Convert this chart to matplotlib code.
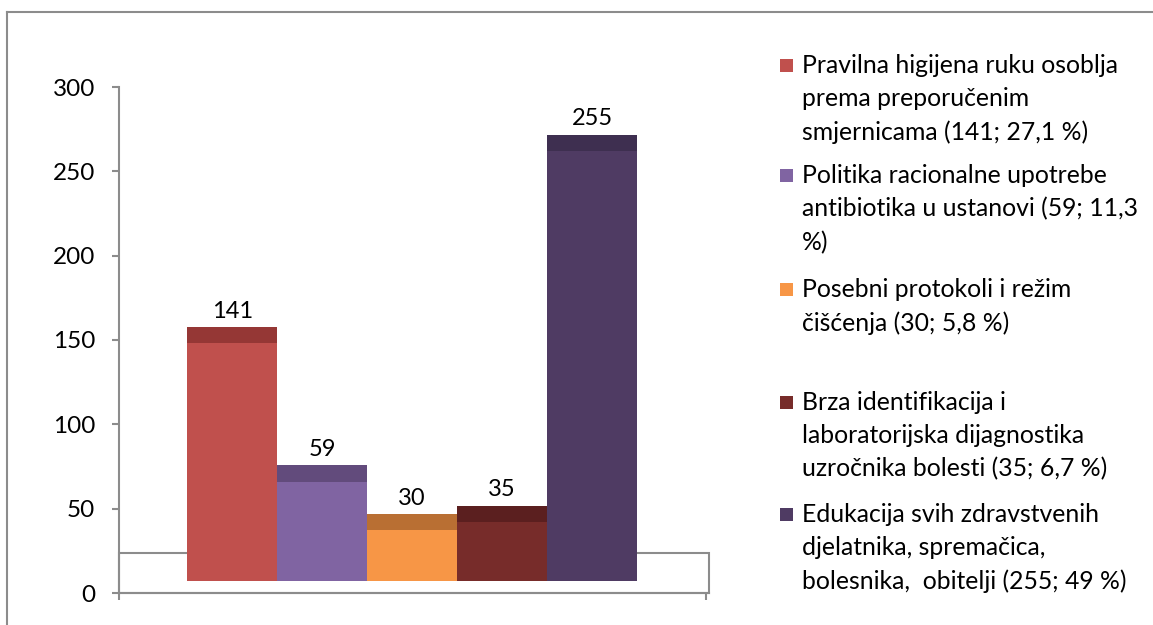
import matplotlib
matplotlib.use('Agg')
import matplotlib.pyplot as plt
from matplotlib.patches import Rectangle
from matplotlib.lines import Line2D

plt.rcParams['font.family'] = ['Lato', 'DejaVu Sans']

# data
values = [141, 59, 30, 35, 255]
labels = ['Pravilna higijena ruku osoblja\nprema preporučenim\nsmjernicama (141; 27,1 %)',
          'Politika racionalne upotrebe\nantibiotika u ustanovi (59; 11,3\n%)',
          'Posebni protokoli i režim\nčišćenja (30; 5,8 %)',
          'Brza identifikacija i\nlaboratorijska dijagnostika\nuzročnika bolesti (35; 6,7 %)',
          'Edukacija svih zdravstvenih\ndjelatnika, spremačica,\nbolesnika,  obitelji (255; 49 %)']
front_colors = ['#C0504D', '#8064A2', '#F79646', '#772C2A', '#4F3B63']
top_colors = ['#953735', '#624B7C', '#B96F33', '#5B1F1F', '#3E2F50']
yticks = [0, 50, 100, 150, 200, 250, 300]

W, H = 1153, 625
fig = plt.figure(figsize=(W / 100, H / 100), dpi=100)
ax = fig.add_axes([119 / W, (H - 593) / H, 590 / W, 506 / H])

base = 7.1      # floor offset of the pseudo 3d bars
depth = 9.5     # thickness of the top face
floor = 23.7
xs = list(range(len(values)))
ax.set_xlim(-1.26, 5.3)
ax.set_ylim(0, 300)

# back floor
ax.add_patch(Rectangle((-1.26, 0), 6.56, floor, facecolor='white', edgecolor='#8C8C8C',
                       linewidth=1.5, clip_on=False, zorder=1))

ax.bar(xs, values, width=1.0, bottom=base, color=front_colors, zorder=3)
ax.bar(xs, [depth] * len(values), width=1.0, bottom=[v + base for v in values],
       color=top_colors, zorder=3)
for x, v in zip(xs, values):
    ax.annotate(str(v), (x, v + base + depth), xytext=(0, 4), textcoords='offset points',
                ha='center', va='bottom', fontsize=17, color='black')

for s in ['top', 'right']:
    ax.spines[s].set_visible(False)
for s in ['left', 'bottom']:
    ax.spines[s].set_color('#8C8C8C')
    ax.spines[s].set_linewidth(1.5)
ax.set_yticks(yticks)
ax.tick_params(axis='y', length=5, width=1.5, color='#8C8C8C', labelsize=17.5, pad=12)
ax.set_xticks([-1.26, 5.27])
ax.set_xticklabels([])
ax.tick_params(axis='x', length=5, width=1.5, color='#8C8C8C')

# legend, drawn by hand to keep the uneven spacing
leg_y = [65, 175, 289, 402, 514]
for lab, col, y in zip(labels, front_colors, leg_y):
    fig.add_artist(Rectangle((780 / W, (H - y - 7) / H), 13 / W, 13 / H,
                             facecolor=col, edgecolor='none', transform=fig.transFigure))
    fig.text(802 / W, (H - y + 11) / H, lab, ha='left', va='top', fontsize=17.8,
             linespacing=1.53, color='black')

# outer frame
fig.add_artist(Line2D([7 / W, 1], [(H - 12) / H, (H - 12) / H], color='#8C8C8C', lw=1.5))
fig.add_artist(Line2D([7 / W, 7 / W], [0, (H - 12) / H], color='#8C8C8C', lw=1.5))

fig.savefig('out.png', dpi=100)
